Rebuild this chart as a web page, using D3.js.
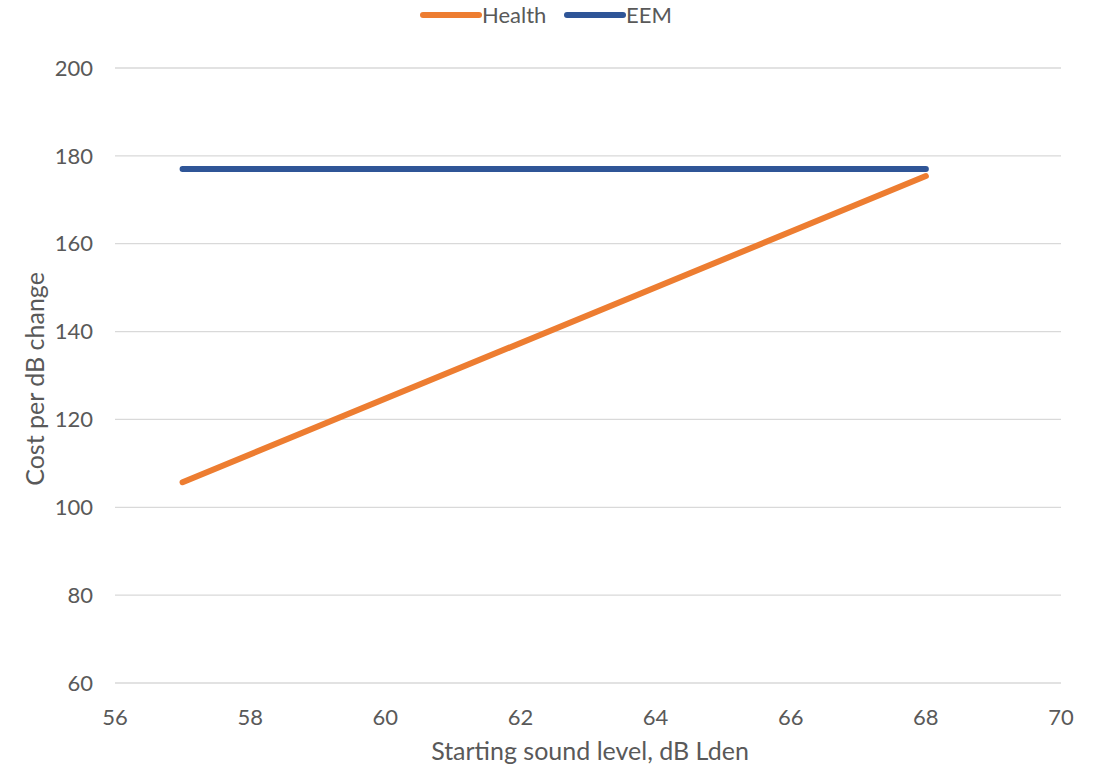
<!DOCTYPE html>
<html><head><meta charset="utf-8">
<script src="https://cdn.jsdelivr.net/npm/d3@7"></script>
<style>body{margin:0;background:#fff}svg text{font-family:Lato,"Open Sans",sans-serif;fill:#595959}</style>
</head><body><svg id="c" width="1099" height="766"></svg>
<script>
const xValues = [57, 68];
const healthValues = [105.7, 175.4];
const eemValues = [177, 177];
const xTicks = [56, 58, 60, 62, 64, 66, 68, 70];
const yTicks = [60, 80, 100, 120, 140, 160, 180, 200];
const seriesNames = ["Health", "EEM"];
const seriesColors = ["#ED7D31", "#2F5597"];

const svg = d3.select("#c");
const x = d3.scaleLinear().domain([56, 70]).range([115, 1061]);
const y = d3.scaleLinear().domain([60, 200]).range([683, 68]);

const grid = svg.append("g");
grid.selectAll("line").data(yTicks).join("line")
  .attr("x1", x(56)).attr("x2", x(70))
  .attr("y1", d => y(d)).attr("y2", d => y(d))
  .attr("stroke", "#d9d9d9").attr("stroke-width", 1.3);

svg.append("g").selectAll("text").data(yTicks).join("text")
  .attr("x", 93).attr("y", d => y(d)).attr("dy", "0.35em")
  .attr("text-anchor", "end").attr("font-size", 22).text(d => d);

svg.append("g").selectAll("text").data(xTicks).join("text")
  .attr("x", d => x(d)).attr("y", 717).attr("dy", "0.35em")
  .attr("text-anchor", "middle").attr("font-size", 22).text(d => d);

svg.append("text").attr("x", 590).attr("y", 751).attr("dy", "0.35em")
  .attr("text-anchor", "middle").attr("font-size", 25).text("Starting sound level, dB Lden");
svg.append("text").attr("transform", "translate(35,379) rotate(-90)").attr("dy", "0.35em")
  .attr("text-anchor", "middle").attr("font-size", 25).text("Cost per dB change");

const line = d3.line().x(d => x(d[0])).y(d => y(d[1]));
const series = [healthValues, eemValues];
series.forEach((vals, i) => {
  svg.append("path").datum(xValues.map((xv, j) => [xv, vals[j]]))
    .attr("d", line).attr("fill", "none").attr("stroke", seriesColors[i])
    .attr("stroke-width", 6).attr("stroke-linecap", "round");
});

const legX = [423, 567];
seriesNames.forEach((n, i) => {
  svg.append("line").attr("x1", legX[i]).attr("x2", legX[i] + 56)
    .attr("y1", 15).attr("y2", 15).attr("stroke", seriesColors[i])
    .attr("stroke-width", 6).attr("stroke-linecap", "round");
  svg.append("text").attr("x", legX[i] + 59).attr("y", 15).attr("dy", "0.35em")
    .attr("font-size", 22).text(n);
});
</script></body></html>
